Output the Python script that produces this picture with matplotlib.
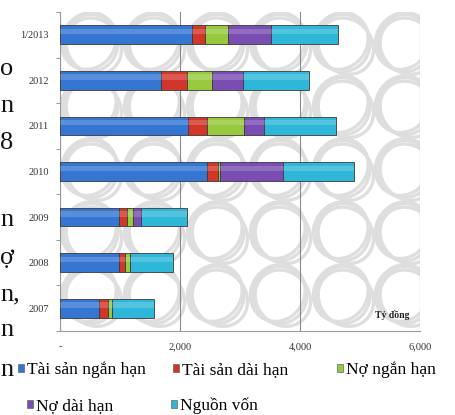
import matplotlib.pyplot as plt
from matplotlib.patches import Ellipse, Patch
from matplotlib.ticker import FuncFormatter

# Cơ cấu tài sản - nguồn vốn (tỷ đồng)
categories = ["2007", "2008", "2009", "2010", "2011", "2012", "1/2013"]
ts_ngan_han = [650, 985, 985, 2450, 2135, 1685, 2200]
ts_dai_han = [150, 100, 135, 180, 315, 435, 215]
no_ngan_han = [65, 85, 100, 30, 615, 415, 385]
no_dai_han = [0, 0, 135, 1050, 335, 515, 715]
nguon_von = [700, 715, 765, 1190, 1200, 1100, 1115]

series_names = ["Tài sản ngắn hạn", "Tài sản dài hạn", "Nợ ngắn hạn",
                "Nợ dài hạn", "Nguồn vốn"]
series_colors = ["#3476d2", "#d2362b", "#97c93f", "#7a4db3", "#2eb7d8"]

# cut-off body text running down the left margin
margin_text = ["o", "n", "8", "n", "ợ", "n,", "n", "n"]
margin_y = [69, 106, 143, 220, 258, 294, 330, 370]

# legend entry anchors (figure pixels, left edge / row centre)
legend_x = [18, 173, 337, 27, 171]
legend_y = [370, 370, 370, 406, 406]

SERIF = ["Liberation Serif", "DejaVu Serif"]
W, H = 456, 415

fig = plt.figure(figsize=(W / 100, H / 100), dpi=100)
ax = fig.add_axes([60 / W, 1 - 331 / H, 360 / W, 319 / H])

# faint ring watermark behind the bars
ring_x = [0.086, 0.261, 0.436, 0.611, 0.786, 0.958]
ring_y = [0.903, 0.705, 0.508, 0.31, 0.113]
for cx in ring_x:
    for cy in ring_y:
        for dx, dy, ang in [(0, 0, 0), (0.008, -0.01, 20), (-0.006, 0.006, -15)]:
            ax.add_patch(Ellipse((cx + dx, cy + dy), 0.15, 0.18, angle=ang,
                                 transform=ax.transAxes, fill=False,
                                 edgecolor="#dedede", linewidth=2.4, zorder=0))

series = [ts_ngan_han, ts_dai_han, no_ngan_han, no_dai_han, nguon_von]
ypos = list(range(len(categories)))
left = [0] * len(categories)
for vals, name, col in zip(series, series_names, series_colors):
    ax.barh(ypos, vals, left=left, height=0.41, color=col,
            edgecolor="#3a3a3a", linewidth=0.6, label=name, zorder=3)
    # light sheen across the top half of each bar
    ax.barh([y + 0.07 for y in ypos], vals, left=left, height=0.12,
            color="white", alpha=0.18, linewidth=0, zorder=4)
    left = [a + b for a, b in zip(left, vals)]

ax.set_xlim(0, 6000)
ax.set_ylim(-0.5, len(categories) - 0.5)
ax.set_xticks([0, 2000, 4000, 6000])
ax.xaxis.set_major_formatter(
    FuncFormatter(lambda v, p: "-" if v == 0 else f"{int(v):,}"))
ax.set_yticks(ypos)
ax.set_yticklabels(categories)
ax.set_yticks([y - 0.5 for y in ypos] + [len(categories) - 0.5], minor=True)
ax.tick_params(axis="y", which="major", length=0, pad=8)
ax.tick_params(axis="y", which="minor", length=3, color="#888888")
ax.tick_params(axis="x", length=0, pad=8)
for lab in ax.get_xticklabels() + ax.get_yticklabels():
    lab.set_fontfamily(SERIF)
    lab.set_fontsize(7.5)
    lab.set_color("#333333")

ax.grid(axis="x", color="#8a8a8a", linewidth=0.8, zorder=1)
for s in ["top", "right"]:
    ax.spines[s].set_visible(False)
for s in ["left", "bottom"]:
    ax.spines[s].set_color("#9a9a9a")
    ax.spines[s].set_linewidth(0.8)
ax.set_facecolor("none")

ax.text(0.97, 0.05, "Tỷ đồng", transform=ax.transAxes, ha="right",
        va="center", fontsize=7, fontweight="bold", family=SERIF,
        color="#222222", zorder=5)

# one small legend per entry so each can sit where it belongs
for name, col, lx, ly in zip(series_names, series_colors, legend_x, legend_y):
    handle = Patch(facecolor=col, edgecolor="#666666", linewidth=0.5)
    fig.legend([handle], [name], loc="center left",
               bbox_to_anchor=(lx / W, 1 - ly / H), frameon=False,
               prop={"family": SERIF, "size": 12.5}, handlelength=0.35,
               handleheight=0.35, handletextpad=0.15, borderaxespad=0,
               borderpad=0)

for txt, y in zip(margin_text, margin_y):
    fig.text(0, 1 - y / H, txt, ha="left", va="center",
             fontsize=19, family=SERIF, color="#111111")

fig.savefig("out.png", dpi=100)
